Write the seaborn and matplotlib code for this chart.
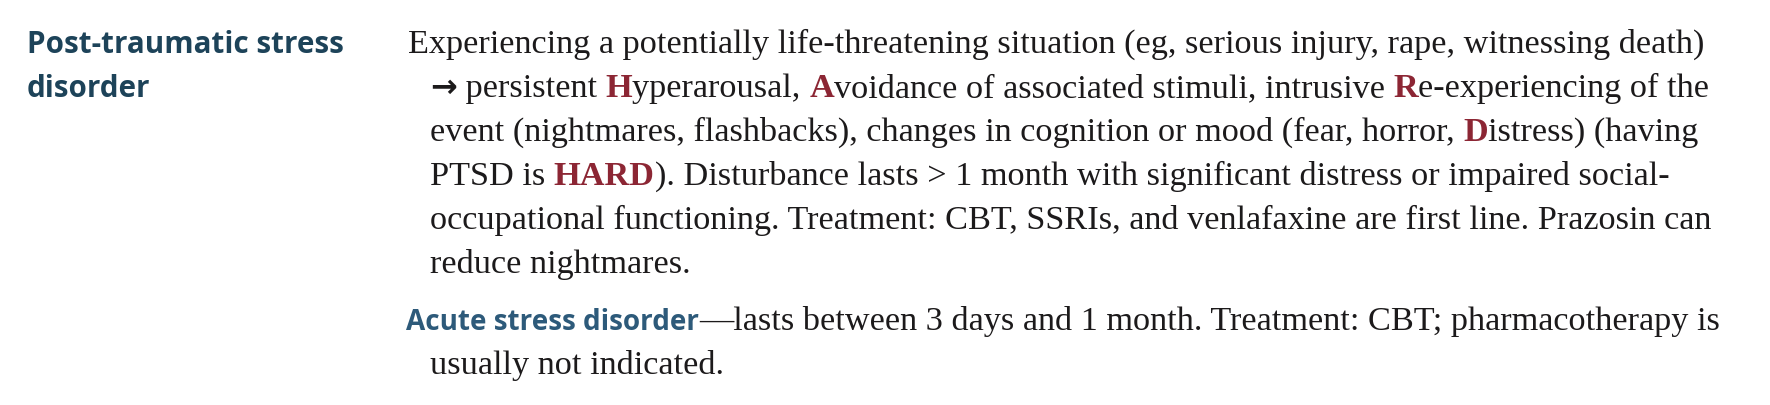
import matplotlib
matplotlib.use("Agg")
import matplotlib.pyplot as plt
import seaborn as sns

sns.set_theme(style="white")
plt.rcParams["font.family"] = ["Liberation Serif", "DejaVu Serif"]

# text content, one list of (text, style) pieces per printed line
heading_lines = ["Post-traumatic stress", "disorder"]

ptsd_lines = [
    [("Experiencing a potentially life-threatening situation (eg, serious injury, rape, witnessing death)", "body")],
    [("\u2192", "arrow"), (" persistent ", "body"), ("H", "red"), ("yperarousal, ", "body"), ("A", "red"),
     ("voidance of associated stimuli, intrusive ", "body"), ("R", "red"), ("e-experiencing of the", "body")],
    [("event (nightmares, flashbacks), changes in cognition or mood (fear, horror, ", "body"),
     ("D", "red"), ("istress) (having", "body")],
    [("PTSD is ", "body"), ("HARD", "red"),
     ("). Disturbance lasts > 1 month with significant distress or impaired social-", "body")],
    [("occupational functioning. Treatment: CBT, SSRIs, and venlafaxine are first line. Prazosin can", "body")],
    [("reduce nightmares.", "body")],
]

acute_lines = [
    [("Acute stress disorder", "sub"),
     ("\u2014lasts between 3 days and 1 month. Treatment: CBT; pharmacotherapy is", "body")],
    [("usually not indicated.", "body")],
]

styles = {
    "body": dict(family=["Liberation Serif"], size=24.7, weight="normal", color="#1c1a1b"),
    "red": dict(family=["Liberation Serif"], size=24.7, weight="bold", color="#8c2634"),
    "arrow": dict(family=["DejaVu Sans"], size=23, weight="bold", color="#1c1a1b"),
    "head": dict(family=["Open Sans"], size=21.3, weight="bold", color="#1d4359"),
    "sub": dict(family=["Open Sans"], size=20.1, weight="bold", color="#2d5a7a"),
}

fig = plt.figure(figsize=(17.7, 4.06), dpi=100)
ax = fig.add_axes([0, 0, 1, 1])
ax.set_xlim(0, 1770)
ax.set_ylim(406, 0)
ax.axis("off")
renderer = fig.canvas.get_renderer()


def seg_width(s, st):
    # advance width of s, trailing spaces included
    a = ax.text(0, 0, s + "|", **st)
    b = ax.text(0, 0, "|", **st)
    w = a.get_window_extent(renderer).width - b.get_window_extent(renderer).width
    a.remove()
    b.remove()
    return w


def draw_line(pieces, x, y):
    for s, key in pieces:
        st = styles[key]
        ax.text(x, y, s, va="baseline", ha="left", **st)
        x += seg_width(s, st)


for i, s in enumerate(heading_lines):
    ax.text(27, 53 + 44 * i, s, va="baseline", ha="left", **styles["head"])

for i, pieces in enumerate(ptsd_lines):
    draw_line(pieces, 408 if i == 0 else 430, 53 + 44 * i)

for i, pieces in enumerate(acute_lines):
    draw_line(pieces, 406 if i == 0 else 430, 330 + 44 * i)

fig.savefig("out.png", dpi=100, facecolor="white")
